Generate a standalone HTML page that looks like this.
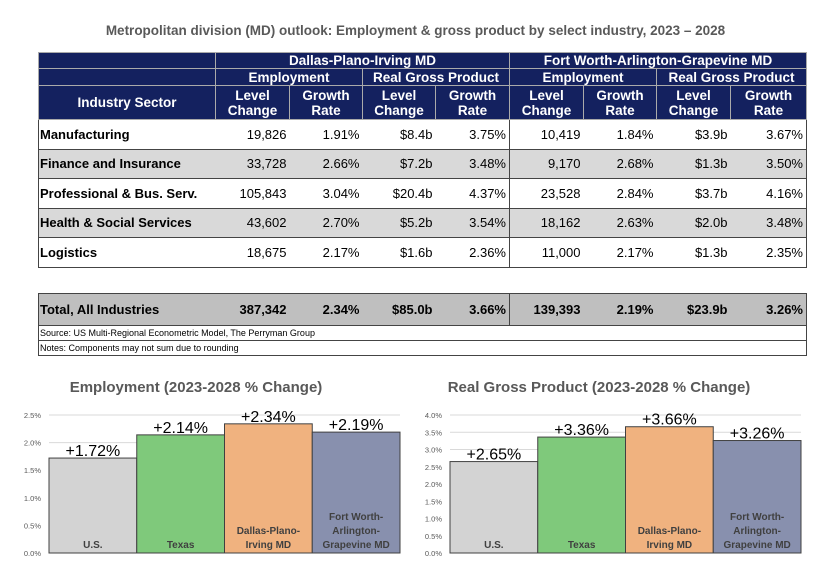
<!DOCTYPE html>
<html><head><meta charset="utf-8">
<style>
body{margin:0;width:831px;height:573px;background:#fff;font-family:"Liberation Sans",Arial,sans-serif;position:relative;overflow:hidden}
#title{position:absolute;left:0;width:831px;top:23px;text-align:center;font-weight:bold;font-size:13.5px;color:#595959}
table{position:absolute;left:38px;top:52px;border-collapse:collapse;table-layout:fixed;font-size:13px}
td{padding:0 3px;white-space:nowrap;overflow:hidden}
.h td{background:#14215f;color:#fff;font-weight:bold;text-align:center;border:1px solid #aaa;font-size:13.5px;line-height:15px}
.d td{text-align:right;border-bottom:1px solid #444;height:28.5px}
.d td.s{text-align:left;font-weight:bold;border-left:1.5px solid #444;padding-left:1px}
.d td.e{border-right:1.5px solid #444}
.d td.m{border-right:1px solid #444}
.g td{background:#d9d9d9}
.t td{background:#bfbfbf;font-weight:bold;border-top:1px solid #444;border-bottom:1px solid #444;height:31px}
.n td{font-size:9px;text-align:left;height:14px;border-left:1.5px solid #444;border-right:1.5px solid #444;padding-left:1px}
svg{position:absolute;left:0;top:0}
</style></head><body>
<div id="title">Metropolitan division (MD) outlook: Employment &amp; gross product by select industry, 2023 – 2028</div>
<table>
<colgroup><col style="width:177px"><col style="width:74px"><col style="width:73px"><col style="width:73px"><col style="width:74px"><col style="width:74px"><col style="width:73px"><col style="width:74px"><col style="width:76px"></colgroup>
<tr class="h" style="height:15px"><td></td><td colspan="4">Dallas-Plano-Irving MD</td><td colspan="4">Fort Worth-Arlington-Grapevine MD</td></tr>
<tr class="h" style="height:17px"><td></td><td colspan="2">Employment</td><td colspan="2">Real Gross Product</td><td colspan="2">Employment</td><td colspan="2">Real Gross Product</td></tr>
<tr class="h" style="height:34px"><td>Industry Sector</td><td>Level<br>Change</td><td>Growth<br>Rate</td><td>Level<br>Change</td><td>Growth<br>Rate</td><td>Level<br>Change</td><td>Growth<br>Rate</td><td>Level<br>Change</td><td>Growth<br>Rate</td></tr>
<tr class="d"><td class="s">Manufacturing</td><td>19,826</td><td>1.91%</td><td>$8.4b</td><td class="m">3.75%</td><td>10,419</td><td>1.84%</td><td>$3.9b</td><td class="e">3.67%</td></tr>
<tr class="d g"><td class="s">Finance and Insurance</td><td>33,728</td><td>2.66%</td><td>$7.2b</td><td class="m">3.48%</td><td>9,170</td><td>2.68%</td><td>$1.3b</td><td class="e">3.50%</td></tr>
<tr class="d"><td class="s">Professional &amp; Bus. Serv.</td><td>105,843</td><td>3.04%</td><td>$20.4b</td><td class="m">4.37%</td><td>23,528</td><td>2.84%</td><td>$3.7b</td><td class="e">4.16%</td></tr>
<tr class="d g"><td class="s">Health &amp; Social Services</td><td>43,602</td><td>2.70%</td><td>$5.2b</td><td class="m">3.54%</td><td>18,162</td><td>2.63%</td><td>$2.0b</td><td class="e">3.48%</td></tr>
<tr class="d"><td class="s">Logistics</td><td>18,675</td><td>2.17%</td><td>$1.6b</td><td class="m">2.36%</td><td>11,000</td><td>2.17%</td><td>$1.3b</td><td class="e">2.35%</td></tr>
<tr style="height:26px"><td colspan="9"></td></tr>
<tr class="d t"><td class="s">Total, All Industries</td><td>387,342</td><td>2.34%</td><td>$85.0b</td><td class="m">3.66%</td><td>139,393</td><td>2.19%</td><td>$23.9b</td><td class="e">3.26%</td></tr>
<tr class="n"><td colspan="9" style="border-bottom:1px solid #444">Source: US Multi-Regional Econometric Model, The Perryman Group</td></tr>
<tr class="n"><td colspan="9" style="border-bottom:1.5px solid #444">Notes: Components may not sum due to rounding</td></tr>
</table>
<svg id="svg" width="831" height="573"></svg>
<script>
const categories=["U.S.","Texas","Dallas-Plano-Irving MD","Fort Worth-Arlington-Grapevine MD"];
const empValues=[1.72,2.14,2.34,2.19];
const gdpValues=[2.65,3.36,3.66,3.26];
const empTicks=[0,0.5,1.0,1.5,2.0,2.5];
const gdpTicks=[0,0.5,1.0,1.5,2.0,2.5,3.0,3.5,4.0];
const catLines=[["U.S."],["Texas"],["Dallas-Plano-","Irving MD"],["Fort Worth-","Arlington-","Grapevine MD"]];
const colors=["#d3d3d3","#7fc97b","#f0b27f","#8890ae"];
const NS="http://www.w3.org/2000/svg";
const svg=document.getElementById('svg');
function mk(t,a){const e=document.createElementNS(NS,t);for(const k in a)e.setAttribute(k,a[k]);svg.appendChild(e);return e;}
function chart(title,cx,x0,x1,yBottom,yTop,max,vals,ticks,name){
  const y=v=>yBottom-(v/max)*(yBottom-yTop);
  const t=mk('text',{x:cx,y:392,'text-anchor':'middle','font-size':15,'font-weight':'bold',fill:'#595959'});t.textContent=title;
  
  
  ticks.forEach(v=>{
    const l=mk('line',{x1:x0,x2:x1,y1:y(v),y2:y(v),stroke:'#d9d9d9','stroke-width':1});
    
    
    const tt=mk('text',{x:x0-8,y:y(v)+3,'text-anchor':'end','font-size':7.5,fill:'#595959'});tt.textContent=v.toFixed(1)+'%';
    
    
  });
  const bw=(x1-x0)/vals.length;
  vals.forEach((v,i)=>{
    const r=mk('rect',{x:x0+i*bw,y:y(v),width:bw,height:yBottom-y(v),fill:colors[i],stroke:'#404040','stroke-width':1});
    
    
    const lb=mk('text',{x:x0+i*bw+bw/2,y:y(v)-2,'text-anchor':'middle','font-size':16,fill:'#000'});lb.textContent='+'+v.toFixed(2)+'%';
    
    
    const lines=catLines[i];
    lines.forEach((s,j)=>{
      const ct=mk('text',{x:x0+i*bw+bw/2,y:yBottom-5-(lines.length-1-j)*14,'text-anchor':'middle','font-size':10,'font-weight':'bold',fill:'#404040'});ct.textContent=s;
      
      
    });
  });
}
chart("Employment (2023-2028 % Change)",196,49,400,553,415,2.5,empValues,empTicks,'employment-chart');
chart("Real Gross Product (2023-2028 % Change)",599,450,801,553,415,4.0,gdpValues,gdpTicks,'gdp-chart');
</script>
</body></html>
